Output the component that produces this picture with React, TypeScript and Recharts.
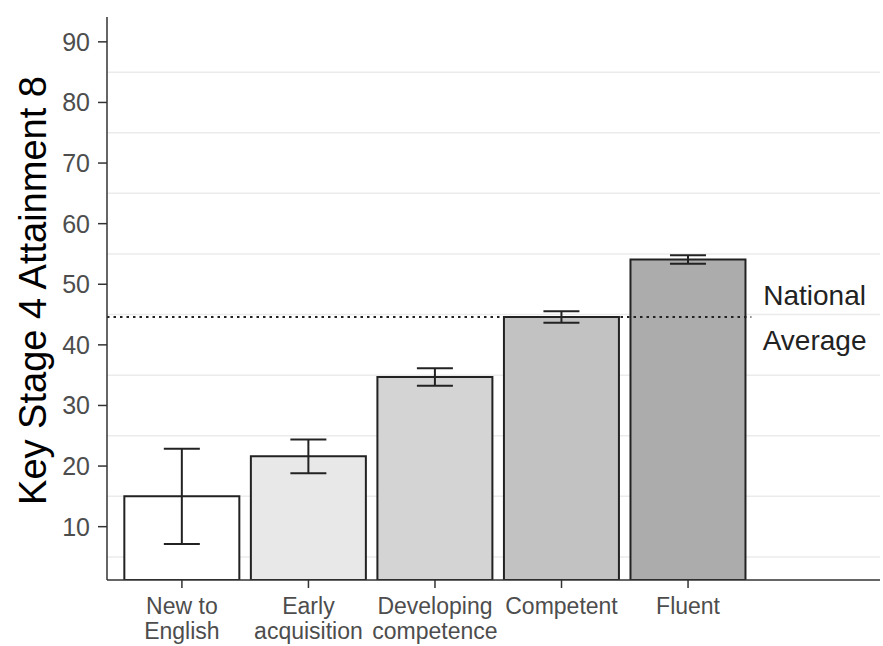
import {
  Bar,
  BarChart,
  CartesianGrid,
  Cell,
  ErrorBar,
  ReferenceDot,
  ReferenceLine,
  XAxis,
  YAxis,
} from "recharts";

const categories = [
  "New to English",
  "Early acquisition",
  "Developing competence",
  "Competent",
  "Fluent",
];
const tickLines: string[][] = [
  ["New to", "English"],
  ["Early", "acquisition"],
  ["Developing", "competence"],
  ["Competent"],
  ["Fluent"],
];
const positions = [1, 2, 3, 4, 5];
const means = [15.0, 21.6, 34.7, 44.6, 54.1];
const errors = [7.85, 2.8, 1.45, 0.95, 0.7];
const fills = ["#ffffff", "#e8e8e8", "#d4d4d4", "#c2c2c2", "#acacac"];

const yTicks = [10, 20, 30, 40, 50, 60, 70, 80, 90];
const gridValues = [5, 15, 25, 35, 45, 55, 65, 75, 85];
const yDomain = [1.2, 94.1];

const nationalAverage = 44.6;
// x is numeric: category i sits at position i, extra room on the right for the note
const xDomain = [0.408, 6.517];
const refLineEnd = 5.5;
const refLabelX = 6.0;

const data = categories.map((name, i) => ({
  name,
  pos: positions[i],
  mean: means[i],
  err: errors[i],
}));

const FONT = "'Liberation Sans', Arial, sans-serif";

const XTick = (props: any) => {
  const { x, y, payload } = props;
  const idx = positions.indexOf(payload.value);
  const lines = tickLines[idx] || [String(payload.value)];
  return (
    <text
      x={x}
      y={y}
      textAnchor="middle"
      fill="#4d4d4d"
      fontSize={23}
      fontFamily={FONT}
    >
      {lines.map((l, i) => (
        <tspan key={i} x={x} dy={i === 0 ? "0.71em" : 25}>
          {l}
        </tspan>
      ))}
    </text>
  );
};

const YLabel = (props: any) => {
  const { viewBox } = props;
  const cx = 33;
  const cy = viewBox.y + viewBox.height / 2 - 8;
  return (
    <text
      x={cx}
      y={cy}
      transform={`rotate(-90 ${cx} ${cy})`}
      textAnchor="middle"
      dominantBaseline="central"
      fill="#000"
      fontSize={38}
      fontFamily={FONT}
    >
      Key Stage 4 Attainment 8
    </text>
  );
};

export default function App() {
  return (
    <div style={{ position: "absolute", left: 0, top: 0, background: "#fff" }}>
      <BarChart
        width={883}
        height={646}
        data={data}
        margin={{ top: 17, right: 3, bottom: 0, left: 0 }}
        barCategoryGap="4.5%"
      >
        <CartesianGrid
          vertical={false}
          horizontalValues={gridValues}
          stroke="#ebebeb"
          strokeWidth={1.5}
        />
        <XAxis
          dataKey="pos"
          type="number"
          domain={xDomain}
          allowDataOverflow
          ticks={positions}
          height={66}
          tick={<XTick />}
          tickSize={8}
          tickMargin={10}
          stroke="#333"
          strokeWidth={1.5}
          interval={0}
        />
        <YAxis
          width={107}
          domain={yDomain}
          allowDataOverflow
          ticks={yTicks}
          tickSize={9}
          tickMargin={8}
          stroke="#333"
          strokeWidth={1.5}
          tick={{ fill: "#4d4d4d", fontSize: 25, fontFamily: FONT }}
          label={<YLabel />}
        />
        <Bar
          dataKey="mean"
          stroke="#222"
          strokeWidth={2}
          isAnimationActive={false}
        >
          {data.map((_, i) => (
            <Cell key={i} fill={fills[i]} />
          ))}
          <ErrorBar
            dataKey="err"
            width={18}
            stroke="#222"
            strokeWidth={2}
          />
        </Bar>
        <ReferenceLine
          segment={[
            { x: xDomain[0], y: nationalAverage },
            { x: refLineEnd, y: nationalAverage },
          ]}
          stroke="#222"
          strokeWidth={2}
          strokeDasharray="2.5 4"
        />
        <ReferenceDot
          x={refLabelX}
          y={nationalAverage}
          r={0}
          fill="none"
          stroke="none"
          label={{
            value: "National",
            position: "top",
            offset: 12,
            fill: "#222",
            fontSize: 28,
            fontFamily: FONT,
          }}
        />
        <ReferenceDot
          x={refLabelX}
          y={nationalAverage}
          r={0}
          fill="none"
          stroke="none"
          label={{
            value: "Average",
            position: "bottom",
            offset: 13,
            fill: "#222",
            fontSize: 28,
            fontFamily: FONT,
          }}
        />
      </BarChart>
    </div>
  );
}
